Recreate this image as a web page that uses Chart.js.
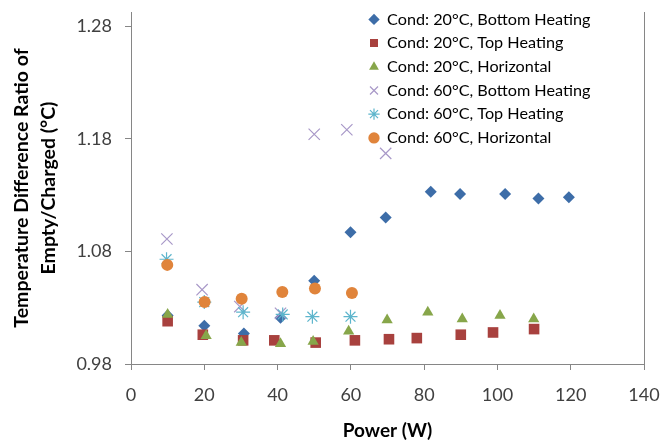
<!DOCTYPE html>
<html>
<head>
<meta charset="utf-8">
<script src="https://cdn.jsdelivr.net/npm/chart.js@4"></script>
<style>
  body { margin: 0; background: #fff; }
  #wrap { width: 662px; height: 440px; }
</style>
</head>
<body>
<div id="wrap"><canvas id="chart" width="662" height="440"></canvas></div>
<script>
// Power (W) on x, ratio on y
const bottom20X = [10, 20, 30.8, 40.8, 50, 59.9, 69.5, 81.8, 89.8, 102.1, 111.2, 119.5];
const bottom20Y = [1.023, 1.014, 1.007, 1.021, 1.054, 1.097, 1.110, 1.133, 1.131, 1.131, 1.127, 1.128];

const top20X = [10, 19.6, 30.6, 39.1, 50.4, 61.1, 70.4, 78, 90, 98.8, 110];
const top20Y = [1.018, 1.006, 1.001, 1.001, 0.999, 1.001, 1.002, 1.003, 1.006, 1.008, 1.011];

const horiz20X = [10, 20.5, 30.1, 40.8, 49.7, 59.4, 69.9, 81, 90.4, 100.7, 109.9];
const horiz20Y = [1.024, 1.005, 0.999, 0.998, 1.000, 1.009, 1.019, 1.026, 1.020, 1.023, 1.020];

const bottom60X = [9.8, 19.4, 29.7, 40.8, 50, 58.9, 69.5];
const bottom60Y = [1.091, 1.046, 1.031, 1.025, 1.184, 1.188, 1.167];

const top60X = [9.7, 20, 30.6, 41.4, 49.5, 59.9];
const top60Y = [1.073, 1.035, 1.026, 1.024, 1.022, 1.022];

const horiz60X = [9.9, 20.1, 30.2, 41.3, 50.2, 60.3];
const horiz60Y = [1.068, 1.035, 1.038, 1.044, 1.047, 1.043];

const yTicks = [0.98, 1.08, 1.18, 1.28];

function pts(xs, ys) {
  return xs.map((x, i) => ({ x: x, y: ys[i] }));
}

const axisColor = "#868686";
const font = "Lato, 'Liberation Sans', sans-serif";

// frame line on the right side of the plot
const rightBorder = {
  id: "rightBorder",
  afterDraw(chart) {
    const a = chart.chartArea;
    const c = chart.ctx;
    c.save();
    c.strokeStyle = axisColor;
    c.lineWidth = 1;
    c.beginPath();
    c.moveTo(Math.round(a.right) + 0.5, a.top);
    c.lineTo(Math.round(a.right) + 0.5, a.bottom);
    c.stroke();
    c.restore();
  },
};

// move the legend into the upper right of the plot
const legendPlace = {
  id: "legendPlace",
  afterUpdate(chart) {
    const lg = chart.legend;
    const w = lg.width, h = lg.height;
    lg.left = 361.5;
    lg.top = 3.8;
    lg.right = lg.left + w;
    lg.bottom = lg.top + h;
  },
};

const ctx = document.getElementById("chart").getContext("2d");
const chart = new Chart(ctx, {
  type: "scatter",
  data: {
    datasets: [
      {
        label: "Cond: 20°C, Bottom Heating",
        data: pts(bottom20X, bottom20Y),
        order: 6,
        pointStyle: "rectRot",
        pointRadius: 6,
        backgroundColor: "#3D6DA8",
        borderColor: "#3D6DA8",
        borderWidth: 0,
      },
      {
        label: "Cond: 20°C, Top Heating",
        data: pts(top20X, top20Y),
        order: 5,
        pointStyle: "rect",
        pointRadius: 7.5,
        backgroundColor: "#A8413E",
        borderColor: "#A8413E",
        borderWidth: 0,
      },
      {
        label: "Cond: 20°C, Horizontal",
        data: pts(horiz20X, horiz20Y),
        order: 4,
        pointStyle: "triangle",
        pointRadius: 6.5,
        backgroundColor: "#87A64A",
        borderColor: "#87A64A",
        borderWidth: 0,
      },
      {
        label: "Cond: 60°C, Bottom Heating",
        data: pts(bottom60X, bottom60Y),
        order: 3,
        pointStyle: "crossRot",
        pointRadius: 8,
        backgroundColor: "#A898C8",
        borderColor: "#A898C8",
        borderWidth: 1.2,
      },
      {
        label: "Cond: 60°C, Top Heating",
        data: pts(top60X, top60Y),
        order: 2,
        pointStyle: "star",
        pointRadius: 7,
        backgroundColor: "#5DB5CC",
        borderColor: "#5DB5CC",
        borderWidth: 1.2,
      },
      {
        label: "Cond: 60°C, Horizontal",
        data: pts(horiz60X, horiz60Y),
        order: 1,
        pointStyle: "circle",
        pointRadius: 6,
        backgroundColor: "#E0843B",
        borderColor: "#E0843B",
        borderWidth: 0,
      },
    ],
  },
  options: {
    responsive: false,
    animation: false,
    layout: { padding: { left: 0, top: 12, right: 18, bottom: 0 } },
    plugins: {
      tooltip: { enabled: false },
      legend: {
        position: "chartArea",
        align: "start",
        labels: {
          usePointStyle: true,
          boxWidth: 10,
          boxHeight: 8,
          padding: 7.5,
          color: "#000",
          font: { family: font, size: 16.2 },
          sort: (a, b) => a.datasetIndex - b.datasetIndex,
        },
      },
    },
    scales: {
      x: {
        type: "linear",
        min: 0,
        max: 140,
        afterFit(s) {
          s.height = 76;
          s.paddingLeft = 0;
          s.paddingRight = 0;
        },
        ticks: { stepSize: 20, color: "#404040", padding: 14, font: { family: font, size: 18 } },
        grid: { drawOnChartArea: false, color: axisColor, tickLength: 6 },
        border: { color: axisColor },
        title: {
          display: true,
          text: "Power (W)",
          color: "#000",
          font: { family: font, size: 19, weight: "bold", lineHeight: 1 },
          padding: { top: 0, bottom: 0 },
        },
      },
      y: {
        type: "linear",
        min: 0.98,
        max: 1.2925,
        afterFit(s) {
          s.width = 131;
          s.paddingTop = 0;
          s.paddingBottom = 0;
        },
        afterBuildTicks(s) { s.ticks = yTicks.map((v) => ({ value: v })); },
        ticks: {
          color: "#404040",
          padding: 13,
          font: { family: font, size: 18 },
          callback: (v) => v.toFixed(2),
        },
        grid: { drawOnChartArea: false, color: axisColor, tickLength: 6 },
        border: { color: axisColor },
        title: {
          display: true,
          text: ["Temperature Difference Ratio of", "Empty/Charged (°C)"],
          color: "#000",
          font: { family: font, size: 19.5, weight: "bold", lineHeight: 1.4 },
          padding: { top: 8, bottom: 0 },
        },
      },
    },
  },
  plugins: [rightBorder, legendPlace],
});
</script>
</body>
</html>
